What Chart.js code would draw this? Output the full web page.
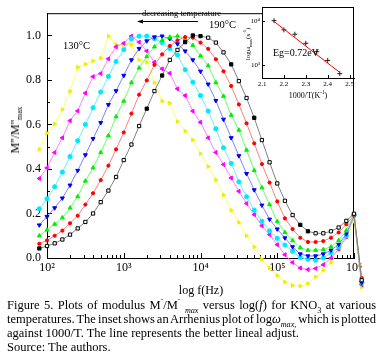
<!DOCTYPE html>
<html><head><meta charset="utf-8">
<script src="https://cdn.jsdelivr.net/npm/chart.js@4.4.1/dist/chart.umd.min.js"></script>
<style>
html,body{margin:0;padding:0;background:#fff;}
body{width:381px;height:361px;position:relative;overflow:hidden;font-family:"Liberation Serif","Times New Roman",serif;color:#000;}
canvas{position:absolute;}
#mainC{left:0;top:0;}
#insetC{left:236px;top:0;}
.lbl{position:absolute;white-space:nowrap;line-height:1;}
.rot{transform:translate(-50%,-50%) rotate(-90deg);}
.ctr{transform:translate(-50%,-50%);}
.cap{position:absolute;left:7px;width:369px;font-size:12.5px;line-height:14px;white-space:nowrap;}
.j{text-align:justify;text-align-last:justify;white-space:normal;}
sub,sup{font-size:65%;line-height:0;}
</style></head><body>
<canvas id="mainC" width="381" height="300"></canvas>
<canvas id="insetC" width="130" height="102"></canvas>
<div class="lbl" style="left:142px;top:8.5px;font-size:8.5px;">decreasing temperature</div>
<div class="lbl" style="left:63px;top:41px;font-size:10.5px;">130°C</div>
<div class="lbl" style="left:209px;top:20px;font-size:10.5px;">190°C</div>
<div class="lbl" style="left:273px;top:48px;font-size:10px;">Eg=0.72eV</div>
<div class="lbl ctr" style="left:201px;top:290px;font-size:12px;">log f(Hz)</div>
<div class="lbl rot" style="left:15px;top:130px;font-size:12px;">M''/M''<sub>max</sub></div>
<div class="lbl ctr" style="left:308px;top:96px;font-size:8px;">1000/T(K<sup>-1</sup>)</div>
<div class="lbl rot" style="left:248px;top:44px;font-size:7px;">logω<sub>max</sub>(s<sup>-1</sup>)</div>
<div class="cap j" style="top:298px;">Figure 5. Plots of modulus M<sup>¨</sup>/M<sup>¨</sup> <sub><i>max</i></sub> versus log(<i>f</i>) for KNO<sub>3</sub> at various</div>
<div class="cap j" style="top:312px;word-spacing:-1.5px;">temperatures. The inset shows an Arrhenius plot of log<i>ω<sub>max,</sub></i> which is plotted</div>
<div class="cap" style="top:326px;">against 1000/T. The line represents the better lineal adjust.</div>
<div class="cap" style="top:340px;">Source: The authors.</div>
<script>
// ---------- data ----------
const logF = [1.9,2.0,2.1,2.2,2.3,2.4,2.5,2.6,2.7,2.8,2.9,3.0,3.1,3.2,3.3,3.4,3.5,3.6,3.7,3.8,3.9,4.0,4.1,4.2,4.3,4.4,4.5,4.6,4.7,4.8,4.9,5.0,5.1,5.2,5.3,5.4,5.5,5.6,5.7,5.8,5.9,6.0,6.1];
const seriesNames = ['190°C','180°C','170°C','160°C','150°C','140°C','130°C'];
const m190 = [0.043,0.054,0.066,0.083,0.105,0.133,0.162,0.200,0.251,0.303,0.364,0.440,0.510,0.593,0.671,0.750,0.820,0.890,0.935,0.970,1.000,0.997,0.990,0.968,0.924,0.870,0.795,0.719,0.630,0.530,0.430,0.335,0.257,0.193,0.149,0.120,0.111,0.111,0.120,0.137,0.167,0.199,-0.10];
const m180 = [0.064,0.079,0.100,0.123,0.156,0.190,0.240,0.291,0.350,0.415,0.488,0.564,0.649,0.734,0.798,0.868,0.915,0.953,0.978,0.993,0.990,0.968,0.940,0.893,0.839,0.773,0.690,0.605,0.515,0.422,0.339,0.254,0.178,0.130,0.091,0.072,0.072,0.076,0.091,0.115,0.152,0.192,-0.09];
const m170 = [0.100,0.126,0.152,0.181,0.225,0.276,0.346,0.405,0.474,0.550,0.635,0.705,0.788,0.854,0.905,0.949,0.978,0.993,0.997,0.985,0.956,0.908,0.864,0.788,0.727,0.642,0.575,0.485,0.393,0.316,0.240,0.164,0.115,0.078,0.047,0.035,0.035,0.038,0.050,0.079,0.123,0.195,-0.10];
const m160 = [0.148,0.186,0.225,0.269,0.327,0.393,0.463,0.536,0.608,0.689,0.751,0.820,0.890,0.941,0.975,0.993,0.997,0.985,0.962,0.930,0.890,0.839,0.781,0.707,0.623,0.540,0.459,0.379,0.306,0.237,0.174,0.130,0.090,0.050,0.018,0.009,0.009,0.018,0.035,0.061,0.108,0.190,-0.11];
const m150 = [0.221,0.266,0.320,0.386,0.456,0.527,0.600,0.675,0.746,0.816,0.883,0.936,0.985,0.997,0.997,0.985,0.968,0.941,0.912,0.846,0.790,0.730,0.660,0.580,0.495,0.425,0.342,0.275,0.215,0.165,0.122,0.088,0.058,0.030,0.002,-0.006,-0.010,0.000,0.022,0.050,0.100,0.195,-0.11];
const m140 = [0.357,0.405,0.474,0.540,0.617,0.661,0.741,0.815,0.829,0.895,0.949,0.965,0.997,0.970,0.930,0.880,0.850,0.830,0.760,0.730,0.660,0.610,0.540,0.474,0.420,0.360,0.300,0.245,0.195,0.145,0.105,0.060,0.015,-0.020,-0.045,-0.052,-0.047,-0.030,0.000,0.040,0.095,0.190,-0.12];
const m130 = [0.488,0.561,0.602,0.667,0.749,0.857,0.871,0.886,0.898,0.997,0.959,0.959,0.959,0.890,0.880,0.788,0.705,0.696,0.613,0.570,0.530,0.469,0.411,0.350,0.283,0.215,0.160,0.100,0.050,-0.006,-0.045,-0.079,-0.108,-0.123,-0.126,-0.115,-0.085,-0.055,-0.020,0.035,0.090,0.167,-0.13];
const xTickVals = [2,3,4,5,6];
const xTickLabels = ['10²','10³','10⁴','10⁵','10⁶'];
const yTickVals = [0,0.2,0.4,0.6,0.8,1.0];
const yTickLabels = ['0.0','0.2','0.4','0.6','0.8','1.0'];
// inset (Arrhenius)
const invT = [2.155,2.200,2.250,2.300,2.350,2.400,2.455];
const omegaMax = [10200,6300,5000,3100,2000,1260,630];
const fitInvT = [2.15,2.455];
const fitOmega = [10200,670];
const insetXTicks = [2.1,2.2,2.3,2.4,2.5];
const insetXLabels = ['2.1','2.2','2.3','2.4','2.5'];
const insetYTicks = [1000,10000];
const insetYLabels = ['10³','10⁴'];
const blackFilled = [0,14,16,19,20,21,25,28,34,35];

// ---------- allow markers outside the plot frame (as in the original) ----------
const _pd = Chart.PointElement.prototype.draw;
Chart.PointElement.prototype.draw = function(ctx){ return _pd.call(this, ctx, {left:-1e4,top:-1e4,right:1e4,bottom:1e4}); };

const styles = [
  {marker:'#000000', line:'#808080', ps:'rect', rot:0, r:2.3},
  {marker:'#ff0000', line:'#ff8080', ps:'circle', rot:0, r:1.6},
  {marker:'#00ee00', line:'#66ff66', ps:'triangle', rot:0, r:2.3},
  {marker:'#0000ff', line:'#8080ff', ps:'triangle', rot:180, r:2.3},
  {marker:'#00e8ff', line:'#66eeff', ps:'circle', rot:0, r:2.1},
  {marker:'#ff00ff', line:'#ff80ff', ps:'triangle', rot:270, r:2.3},
  {marker:'#eeee00', line:'#ffff66', ps:'triangle', rot:90, r:2.2}
];
const allSeries = [m190,m180,m170,m160,m150,m140,m130];
const datasets = allSeries.map((arr,k)=>{
  const s = styles[k];
  return {
    label: seriesNames[k],
    data: logF.map((x,i)=>({x:x, y:arr[i]})),
    borderColor: s.line, borderWidth: 1,
    pointStyle: s.ps, pointRotation: s.rot, pointRadius: s.r,
    pointBorderColor: s.marker, pointBorderWidth: 1,
    pointBackgroundColor: k===0 ? (c)=> blackFilled.includes(c.dataIndex)?'#000':'#fff' : s.marker,
    tension: 0, clip: false, order: k
  };
});

const serif = 'Liberation Serif';
const mainDeco = {
  id:'mainDeco',
  beforeDatasetsDraw(chart){
    const {ctx, chartArea:a, scales:{x,y}} = chart;
    ctx.save(); ctx.strokeStyle='#000'; ctx.lineWidth=1; ctx.beginPath();
    ctx.moveTo(a.left, a.top+0.5); ctx.lineTo(a.right, a.top+0.5);
    ctx.moveTo(a.right-0.5, a.top); ctx.lineTo(a.right-0.5, a.bottom);
    for (let n=2;n<=6;n++){
      const px=Math.round(x.getPixelForValue(n))+0.5;
      ctx.moveTo(px,a.bottom); ctx.lineTo(px,a.bottom-5);
      if(n<6) for(let k=2;k<=9;k++){ const p=Math.round(x.getPixelForValue(n+Math.log10(k)))+0.5; ctx.moveTo(p,a.bottom); ctx.lineTo(p,a.bottom-3); }
    }
    for (let v=0; v<=10; v++){
      const py=Math.round(y.getPixelForValue(v/10))+0.5;
      ctx.moveTo(a.left,py); ctx.lineTo(a.left+(v%2===0?5:3),py);
    }
    ctx.stroke(); ctx.restore();
  },
  afterDraw(chart){
    const ctx=chart.ctx; ctx.save(); ctx.strokeStyle='#000'; ctx.fillStyle='#000'; ctx.lineWidth=1;
    ctx.beginPath(); ctx.moveTo(198,21.5); ctx.lineTo(139,21.5); ctx.stroke();
    ctx.beginPath(); ctx.moveTo(137,21.5); ctx.lineTo(143,19.5); ctx.lineTo(143,23.5); ctx.closePath(); ctx.fill();
    ctx.restore();
  }
};

new Chart(document.getElementById('mainC'), {
  type:'line',
  data:{datasets},
  options:{
    responsive:false, animation:false, devicePixelRatio:1,
    layout:{padding:{left:0,right:27,top:7,bottom:0}},
    plugins:{legend:{display:false}, tooltip:{enabled:false}},
    scales:{
      x:{type:'linear', bounds:'data',
        afterDataLimits:s=>{s.min=2;s.max=6;},
        afterBuildTicks:s=>{s.ticks=xTickVals.map(v=>({value:v})); s.min=2; s.max=6;},
        afterFit:s=>{s.height=42;},
        grid:{display:false, drawTicks:false},
        border:{display:true,color:'#000',width:1},
        ticks:{autoSkip:false,maxRotation:0,padding:3,color:'#000',font:{family:serif,size:12},callback:(v,i)=>xTickLabels[i]}
      },
      y:{type:'linear', min:0, max:1.1,
        afterBuildTicks:s=>{s.ticks=yTickVals.map(v=>({value:v}));},
        afterFit:s=>{s.width=47;},
        grid:{display:false, drawTicks:false},
        border:{display:true,color:'#000',width:1},
        ticks:{autoSkip:false,padding:6,color:'#000',font:{family:serif,size:12},callback:(v,i)=>yTickLabels[i]}
      }
    }
  },
  plugins:[mainDeco]
});

const insetDeco = {
  id:'insetDeco',
  beforeDraw(chart){
    const {ctx, chartArea:a}=chart; ctx.save(); ctx.fillStyle='#fff'; ctx.fillRect(a.left,a.top,a.right-a.left,a.bottom-a.top); ctx.restore();
  },
  beforeDatasetsDraw(chart){
    const {ctx, chartArea:a, scales:{x,y}} = chart;
    ctx.save(); ctx.strokeStyle='#000'; ctx.lineWidth=1; ctx.beginPath();
    ctx.moveTo(a.left, a.top+0.5); ctx.lineTo(a.right, a.top+0.5);
    ctx.moveTo(a.right-0.5, a.top); ctx.lineTo(a.right-0.5, a.bottom);
    insetXTicks.forEach(v=>{const p=Math.round(x.getPixelForValue(v))+0.5; ctx.moveTo(p,a.bottom); ctx.lineTo(p,a.bottom-3);});
    insetYTicks.forEach(v=>{const p=Math.round(y.getPixelForValue(v))+0.5; ctx.moveTo(a.left,p); ctx.lineTo(a.left+3,p);});
    ctx.stroke(); ctx.restore();
  }
};

new Chart(document.getElementById('insetC'), {
  type:'scatter',
  data:{datasets:[
    {data:fitInvT.map((x,i)=>({x:x,y:fitOmega[i]})), showLine:true, borderColor:'#ff0000', borderWidth:1, pointRadius:0},
    {data:invT.map((x,i)=>({x:x,y:omegaMax[i]})), showLine:false, pointStyle:'cross', pointRadius:2.5, pointBorderColor:'#222', pointBorderWidth:1}
  ]},
  options:{
    responsive:false, animation:false, devicePixelRatio:1,
    layout:{padding:{left:0,right:12,top:7,bottom:0}},
    plugins:{legend:{display:false}, tooltip:{enabled:false}},
    scales:{
      x:{type:'linear', min:2.1, max:2.52,
        afterBuildTicks:s=>{s.ticks=insetXTicks.map(v=>({value:v}));},
        afterFit:s=>{s.height=24;},
        grid:{display:false,drawTicks:false}, border:{display:true,color:'#000',width:1},
        ticks:{autoSkip:false,maxRotation:0,padding:2,color:'#000',font:{family:serif,size:7},callback:(v,i)=>insetXLabels[i]}
      },
      y:{type:'logarithmic', min:501, max:20900,
        afterBuildTicks:s=>{s.ticks=insetYTicks.map(v=>({value:v}));},
        afterFit:s=>{s.width=26;},
        grid:{display:false,drawTicks:false}, border:{display:true,color:'#000',width:1},
        ticks:{autoSkip:false,padding:2,color:'#000',font:{family:serif,size:7},callback:(v,i)=>insetYLabels[i]}
      }
    }
  },
  plugins:[insetDeco]
});
</script>
</body></html>
